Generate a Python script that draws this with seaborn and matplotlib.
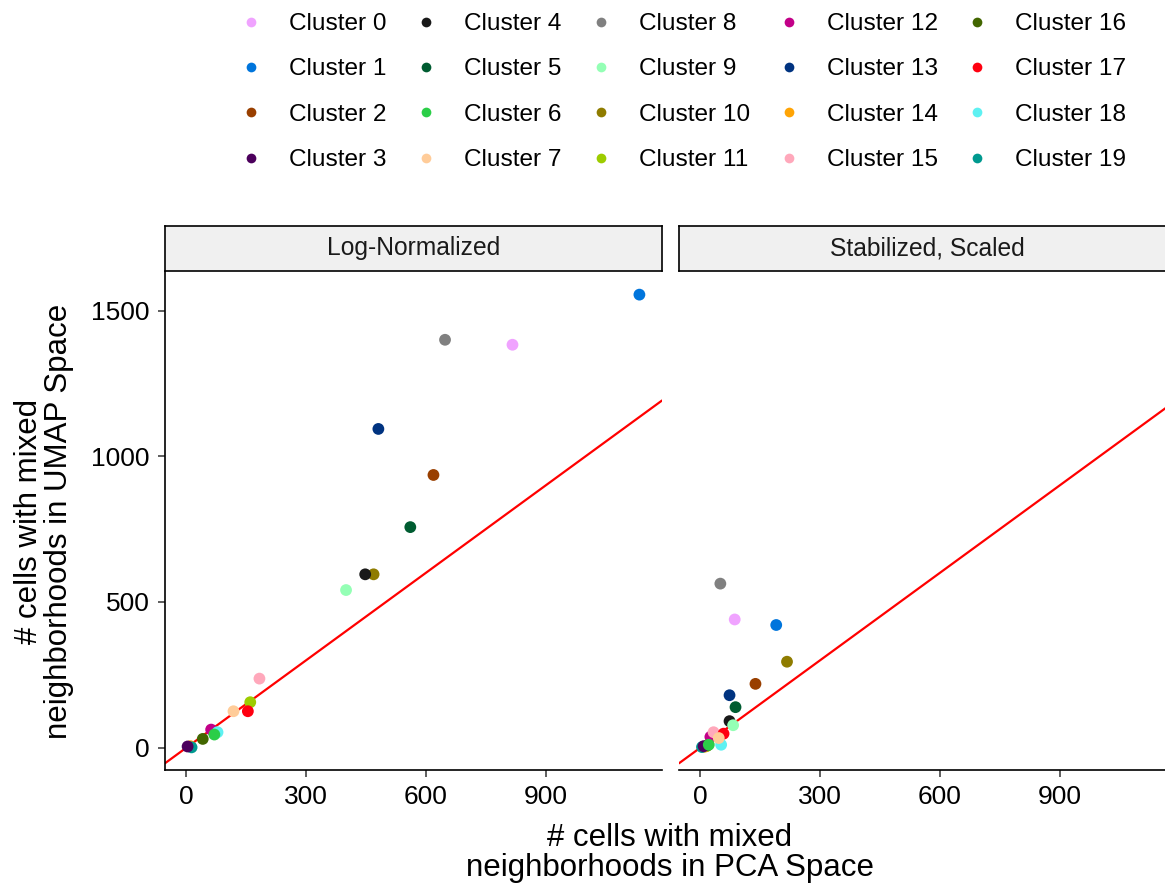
import numpy as np
import pandas as pd
import matplotlib
matplotlib.use("Agg")
import matplotlib.pyplot as plt
import seaborn as sns
from matplotlib.lines import Line2D

# ---------------- data ----------------
cluster_ids = list(range(20))
clusters = [f"Cluster {i}" for i in cluster_ids]
colors = ["#F0A3FF", "#0075DC", "#993F00", "#4C005C", "#191919",
          "#005C31", "#2BCE48", "#FFCC99", "#808080", "#94FFB5",
          "#8F7C00", "#9DCC00", "#C20088", "#003380", "#FFA405",
          "#FFA8BB", "#426600", "#FF0010", "#5EF1F2", "#00998F"]
methods = ["Log-Normalized", "Stabilized, Scaled"]

lognorm_pca = [817, 1135, 619, 3, 448, 561, 70, 118, 648, 400,
               469, 160, 62, 481, 10, 183, 41, 154, 78, 13]
lognorm_umap = [1383, 1555, 936, 4, 595, 757, 45, 125, 1400, 541,
                595, 156, 62, 1094, 5, 237, 30, 125, 53, 1]
stab_pca = [86, 190, 138, 8, 73, 88, 21, 46, 50, 82,
            217, 15, 25, 73, 10, 33, 18, 58, 52, 4]
stab_umap = [440, 421, 219, 5, 91, 139, 10, 33, 563, 77,
             295, 5, 37, 180, 3, 53, 8, 48, 10, 2]

x_ticks = [0, 300, 600, 900]
y_ticks = [0, 500, 1000, 1500]

df = pd.concat([
    pd.DataFrame({"cluster": clusters, "id": cluster_ids, "pca": lognorm_pca,
                  "umap": lognorm_umap, "method": methods[0]}),
    pd.DataFrame({"cluster": clusters, "id": cluster_ids, "pca": stab_pca,
                  "umap": stab_umap, "method": methods[1]}),
])
# drawing order like a character-sorted factor
df["key"] = df["id"].astype(str)
df = df.sort_values(["method", "key"])

# ---------------- style ----------------
sns.set_theme(style="white")
plt.rcParams["font.family"] = ["Liberation Sans", "DejaVu Sans"]
plt.rcParams["text.color"] = "black"

W, H = 1165, 886
fig = plt.figure(figsize=(W / 100, H / 100), dpi=100)

def fx(px):
    return px / W

def fy(py):
    return 1 - py / H

panel_top, panel_bot = 272, 770
panel_w = 497
lefts = [165, 679]

allx = lognorm_pca + stab_pca
ally = lognorm_umap + stab_umap
xr = max(allx) - min(allx)
yr = max(ally) - min(ally)
xlim = (min(allx) - 0.05 * xr, max(allx) + 0.05 * xr)
ylim = (min(ally) - 0.05 * yr, max(ally) + 0.05 * yr)

tick_fs = 19
for i, (m, lx) in enumerate(zip(methods, lefts)):
    ax = fig.add_axes([fx(lx), fy(panel_bot), panel_w / W,
                       (panel_bot - panel_top) / H])
    sub = df[df["method"] == m]
    ax.axline((0, 0), slope=1, color="#FF0000", lw=1.6, zorder=1)
    sns.scatterplot(data=sub, x="pca", y="umap", hue="cluster",
                    hue_order=clusters, palette=colors, s=72,
                    linewidth=0, legend=False, ax=ax, zorder=2)
    ax.set_xlim(xlim)
    ax.set_ylim(ylim)
    ax.set_xticks(x_ticks)
    ax.set_yticks(y_ticks)
    ax.set_xlabel("")
    ax.set_ylabel("")
    ax.set_facecolor("white")
    for s in ["top", "right"]:
        ax.spines[s].set_visible(False)
    ax.spines["bottom"].set_color("black")
    ax.spines["bottom"].set_linewidth(1.2)
    ax.spines["left"].set_color("black")
    ax.spines["left"].set_linewidth(1.2)
    ax.tick_params(axis="both", which="both", length=5, width=1.1,
                   color="#333333", labelsize=tick_fs, labelcolor="black",
                   direction="out", bottom=True, left=True)
    ax.tick_params(axis="x", pad=6)
    ax.tick_params(axis="y", pad=6)
    if i == 1:
        ax.spines["left"].set_visible(False)
        ax.tick_params(axis="y", left=False, labelleft=False)
    # strip
    sax = fig.add_axes([fx(lx), fy(271), panel_w / W, 45 / H])
    sax.set_facecolor("#F0F0F0")
    sax.set_xticks([])
    sax.set_yticks([])
    for s in sax.spines.values():
        s.set_color("black")
        s.set_linewidth(1.2)
        s.set_visible(True)
    sax.text(0.5, 0.5, m, ha="center", va="center", fontsize=17.7,
             color="#1A1A1A", transform=sax.transAxes)

# axis titles
fig.text(fx(670), fy(853), "# cells with mixed\nneighborhoods in PCA Space",
         ha="center", va="center", fontsize=22.5, linespacing=1.0,
         color="black")
fig.text(fx(44), fy(521), "# cells with mixed\nneighborhoods in UMAP Space",
         ha="center", va="center", fontsize=22.5, linespacing=1.0,
         rotation=90, color="black")

# legend: 5 columns of 4 entries
col_x = [251, 426, 601, 789, 977]
for c in range(5):
    idx = list(range(c * 4, c * 4 + 4))
    handles = [Line2D([], [], marker="o", ls="", color=colors[k],
                      markersize=7, markeredgewidth=0) for k in idx]
    labels = [clusters[k] for k in idx]
    fig.legend(handles, labels, loc="upper left",
               bbox_to_anchor=(fx(col_x[c] - 18.4), fy(13)),
               frameon=False, fontsize=17.6, handlelength=1.5,
               handletextpad=0.8, labelspacing=0.95, borderpad=0,
               borderaxespad=0, labelcolor="black")

fig.savefig("out.png", dpi=100, facecolor="white")
